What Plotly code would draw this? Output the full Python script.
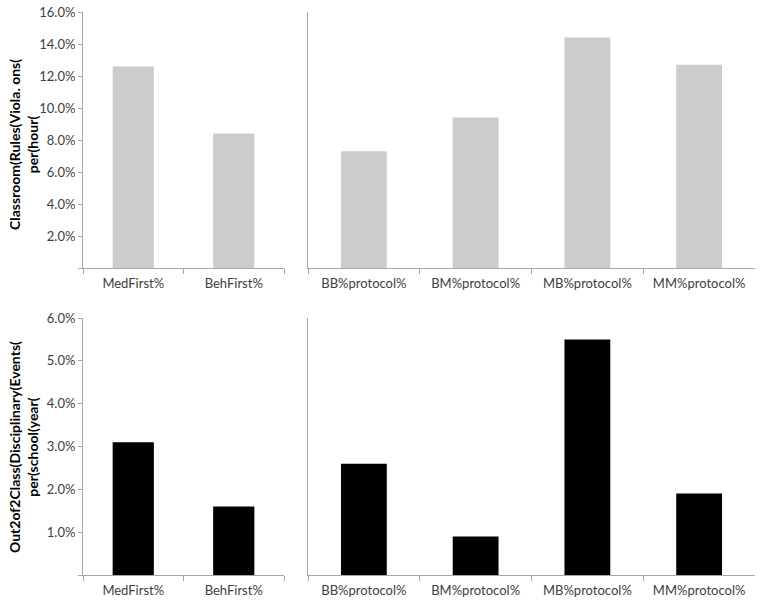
import plotly.graph_objects as go

# ---- data ----
first_cats = ["MedFirst%", "BehFirst%"]
protocol_cats = ["BB%protocol%", "BM%protocol%", "MB%protocol%", "MM%protocol%"]

rules_first = [0.126, 0.084]
rules_protocol = [0.073, 0.094, 0.144, 0.127]

events_first = [0.031, 0.016]
events_protocol = [0.026, 0.009, 0.055, 0.019]

rules_ticks = [0.0, 0.02, 0.04, 0.06, 0.08, 0.10, 0.12, 0.14, 0.16]
events_ticks = [0.0, 0.01, 0.02, 0.03, 0.04, 0.05, 0.06]

title_top = "Classroom(Rules(Viola. ons(<br>per(hour("
title_bottom = "Out2of2Class(Disciplinary(Events(<br>per(school(year("

W, H = 764, 606
FONT = "Lato"
AX = "#a6a6a6"
TXT = "#404040"

def fx(px):
    return px / W

def fy(py):
    return 1 - py / H

def fmt(ticks):
    return ["" if v == 0 else f"{v*100:.1f}%" for v in ticks]

fig = go.Figure()
fig.add_trace(go.Bar(x=first_cats, y=rules_first, marker=dict(color="#cccccc", line=dict(width=0)), xaxis="x", yaxis="y"))
fig.add_trace(go.Bar(x=protocol_cats, y=rules_protocol, marker=dict(color="#cccccc", line=dict(width=0)), xaxis="x2", yaxis="y2"))
fig.add_trace(go.Bar(x=first_cats, y=events_first, marker=dict(color="#000000", line=dict(width=0)), xaxis="x3", yaxis="y3"))
fig.add_trace(go.Bar(x=protocol_cats, y=events_protocol, marker=dict(color="#000000", line=dict(width=0)), xaxis="x4", yaxis="y4"))

xl = [fx(83), fx(284)]
xr = [fx(308), fx(755)]
yt = [fy(268), fy(12)]
yb = [fy(575), fy(318)]

def xaxis(domain, anchor):
    return dict(domain=domain, anchor=anchor, type="category", showline=True, linecolor=AX, linewidth=1,
                ticks="outside", tickson="boundaries", ticklen=5, tickcolor=AX, showgrid=False,
                tickfont=dict(family=FONT, size=13, color=TXT), ticklabelstandoff=3, fixedrange=True,
                automargin=False)

def yaxis(domain, anchor, ticks, show):
    d = dict(domain=domain, anchor=anchor, range=[0, ticks[-1]], showline=True, linecolor=AX, linewidth=1,
             showgrid=False, zeroline=False, fixedrange=True, automargin=False)
    if show:
        d.update(tickmode="array", tickvals=ticks, ticktext=fmt(ticks), ticks="outside", ticklen=4,
                 tickcolor=AX, tickfont=dict(family=FONT, size=13, color=TXT))
    else:
        d.update(showticklabels=False, ticks="")
    return d

fig.update_layout(
    width=W, height=H,
    margin=dict(l=0, r=0, t=0, b=0),
    paper_bgcolor="white", plot_bgcolor="white",
    showlegend=False, bargap=0.59,
    xaxis=xaxis(xl, "y"), yaxis=yaxis(yt, "x", rules_ticks, True),
    xaxis2=xaxis(xr, "y2"), yaxis2=yaxis(yt, "x2", rules_ticks, False),
    xaxis3=xaxis(xl, "y3"), yaxis3=yaxis(yb, "x3", events_ticks, True),
    xaxis4=xaxis(xr, "y4"), yaxis4=yaxis(yb, "x4", events_ticks, False),
    annotations=[
        dict(text="<b>" + title_top.replace("<br>", "</b><br><b>") + "</b>", x=fx(23), y=fy(145),
             xref="paper", yref="paper", xanchor="center", yanchor="middle", textangle=-90, showarrow=False,
             font=dict(family=FONT, size=14, color="#000000"), align="center"),
        dict(text="<b>" + title_bottom.replace("<br>", "</b><br><b>") + "</b>", x=fx(23), y=fy(447),
             xref="paper", yref="paper", xanchor="center", yanchor="middle", textangle=-90, showarrow=False,
             font=dict(family=FONT, size=14, color="#000000"), align="center"),
    ],
)

fig.write_html("out.html", config={"displayModeBar": False},
               post_script="document.body.style.margin='0';document.body.style.overflow='hidden';")
